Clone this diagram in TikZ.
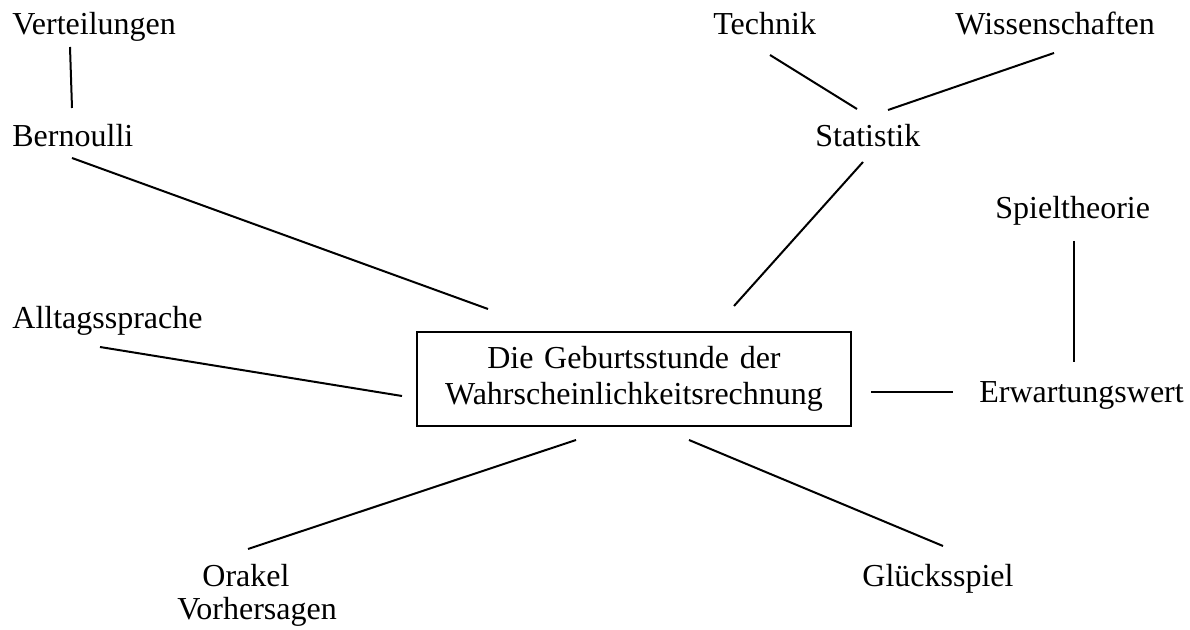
\documentclass[tikz,border=0pt]{standalone}
\usepackage{fontspec}
\setmainfont{Liberation Serif}
\usepackage{tikz}
\usetikzlibrary{calc}

\tikzset{
  word/.style={font=\fontsize{16}{18}\selectfont, inner sep=0pt, anchor=base west},
  link/.style={draw=black, line width=1pt},
  mainbox/.style={draw=black, line width=1pt, font=\fontsize{16}{18}\selectfont,
    align=center, text width=200pt, minimum width=217pt, minimum height=47pt, inner sep=0pt}
}

\begin{document}
\begin{tikzpicture}[x=0.5pt, y=-0.5pt]
  \useasboundingbox (0,0) rectangle (1190,630);

  % mittlerer Kasten
  \node[mainbox] (geburt) at (634,379) {Die Geburtsstunde der\\Wahrscheinlichkeitsrechnung};

  % Begriffe rundherum
  \node[word] (verteil) at (12,35) {Verteilungen};
  \node[word] (bernoulli) at (12,147) {Bernoulli};
  \node[word] (technik) at (713,35) {Technik};
  \node[word] (wissen) at (955,35) {Wissenschaften};
  \node[word] (statistik) at (815,147) {Statistik};
  \node[word] (spiel) at (995,219) {Spieltheorie};
  \node[word] (alltag) at (12,329) {Alltagssprache};
  \node[word] (erwart) at (979,403) {Erwartungswert};
  \node[word] (orakel) at (202,587) {Orakel};
  \node[word] (vorher) at (177,620) {Vorhersagen};
  \node[word] (glueck) at (862,587) {Glücksspiel};

  % Verbindungen
  \draw[link] ($(verteil.base west)+(58,12)$) -- ($(bernoulli.base west)+(60,-39)$);
  \draw[link] ($(bernoulli.base west)+(60,11)$) -- ($(geburt.north west)+(72,-22)$);
  \draw[link] ($(technik.base west)+(57,20)$) -- ($(statistik.base west)+(42,-38)$);
  \draw[link] ($(wissen.base west)+(99,18)$) -- ($(statistik.base west)+(73,-37)$);
  \draw[link] ($(statistik.base west)+(48,15)$) -- ($(geburt.north east)+(-118,-25)$);
  \draw[link] ($(spiel.base west)+(79,22)$) -- ($(erwart.base west)+(95,-41)$);
  \draw[link] ($(alltag.base west)+(88,18)$) -- ($(geburt.west)+(-14,17)$);
  \draw[link] ($(geburt.east)+(19,13)$) -- ($(erwart.base west)+(-26,-11)$);
  \draw[link] ($(geburt.south west)+(160,13)$) -- ($(orakel.base west)+(46,-38)$);
  \draw[link] ($(geburt.south west)+(273,13)$) -- ($(glueck.base west)+(81,-41)$);
\end{tikzpicture}
\end{document}
